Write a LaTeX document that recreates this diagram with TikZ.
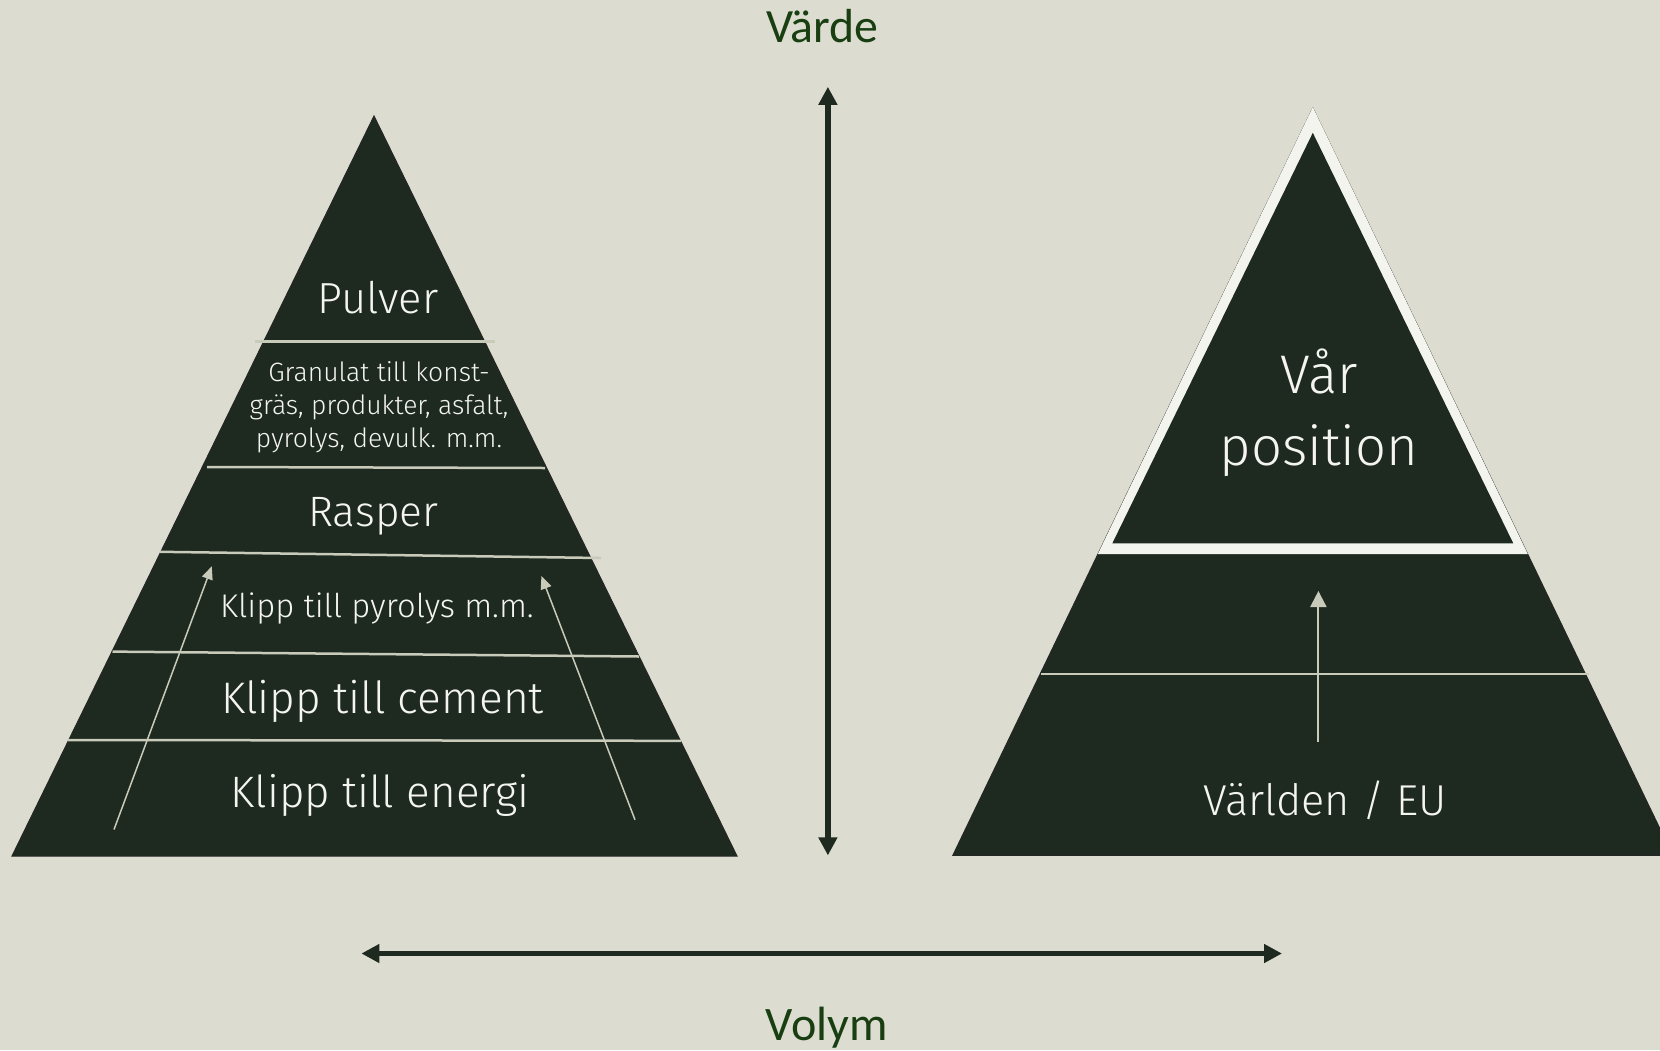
\documentclass[tikz,border=0pt]{standalone}
\usepackage{fontspec}
\IfFontExistsTF{Fira Sans Book}{\setmainfont{Fira Sans Book}}{\setmainfont{Fira Sans Light}}
\newfontfamily\axisfont{Carlito}
\usetikzlibrary{arrows.meta}
\definecolor{bg}{RGB}{220,221,208}
\definecolor{dark}{RGB}{30,42,32}
\definecolor{axisgreen}{RGB}{24,62,18}
\definecolor{divider}{RGB}{200,203,186}
\definecolor{rim}{RGB}{243,244,238}
\definecolor{txt}{RGB}{244,245,240}
\newcommand{\fs}[1]{\fontsize{#1}{#1}\selectfont}
\begin{document}
\begin{tikzpicture}[x=1pt,y=-1pt,
  layerline/.style={draw=divider, line width=2.5pt},
  pyr/.style={fill=dark, draw=black!85, line width=1pt, line join=miter},
  lbl/.style={text=txt, anchor=base, inner sep=0pt},
  uparrow/.style={draw=divider, line width=1.5pt, -{Triangle[length=13pt,width=11pt]}},
  midarrow/.style={draw=divider, line width=2pt, -{Triangle[length=16pt,width=16pt]}},
  axisarrow/.style={draw=dark, line width=5.5pt, {Triangle[length=18pt,width=18pt]}-{Triangle[length=18pt,width=18pt]}},
  axislbl/.style={text=axisgreen, anchor=base, inner sep=0pt}]
\fill[bg] (0,0) rectangle (1660,1050);
\useasboundingbox (0,0) rectangle (1660,1050);
\clip (0,0) rectangle (1660,1050);

% ---------- left pyramid ----------
\draw[pyr] (12,856) -- (374,116) -- (737,856) -- cycle;
\draw[layerline] (255,341.5) -- (495,341.5);
\draw[layerline] (207,467) -- (545,468);
\draw[layerline] (160,551.8) -- (601,558);
\draw[layerline] (112.5,651.6) -- (639,656.5);
\draw[layerline] (68,740) -- (681,740.8);

\coordinate (la1) at (114,829.5);
\coordinate (la2) at (211.8,566.3);
\coordinate (ra1) at (635,819.8);
\coordinate (ra2) at (541.4,576);
\draw[uparrow] (la1) -- (la2);
\draw[uparrow] (ra1) -- (ra2);

\node[lbl, font=\fs{43.5}] (pulver) at (378,313) {Pulver};
\node[text=txt, inner sep=0pt, align=center, font=\fontsize{26.5}{33}\selectfont] (granulat) at (379,407)
  {Granulat till konst-\\gräs, produkter, asfalt,\\pyrolys, devulk. m.m.};
\node[lbl, font=\fs{42.5}] (rasper) at (373.3,526.6) {Rasper};
\node[lbl, font=\fs{32.8}] (pyrolys) at (377,617.7) {Klipp till pyrolys m.m.};
\node[lbl, font=\fs{44.2}] (cement) at (382.5,713) {Klipp till cement};
\node[lbl, font=\fs{44}] (energi) at (380,807.7) {Klipp till energi};

% ---------- right pyramid ----------
\draw[pyr] (952.8,855.4) -- (1312.8,108) -- (1672.8,855.4) -- cycle;
\fill[rim] (1312.8,107) -- (1097.8,554) -- (1527.8,554) -- cycle;
\fill[dark] (1312.8,132.8) -- (1112.3,543.4) -- (1513.3,543.4) -- cycle;
\draw[layerline] (1041,674) -- (1588.6,674);
\coordinate (mid1) at (1318.4,742);
\coordinate (mid2) at (1318.4,591);
\draw[midarrow] (mid1) -- (mid2);

\node[text=txt, inner sep=0pt, align=center, font=\fontsize{54.4}{72}\selectfont] (var) at (1319,412.5) {Vår\\position};
\node[lbl, font=\fs{43.2}] (varlden) at (1325,815.6) {Världen / EU};

% ---------- axes ----------
\coordinate (vtop) at (827.9,86.8);
\coordinate (vbot) at (827.9,855.4);
\draw[axisarrow] (vbot) -- (vtop);
\coordinate (hleft) at (361.4,953.5);
\coordinate (hright) at (1282,953.5);
\draw[axisarrow] (hleft) -- (hright);

\node[axislbl, font=\axisfont\fs{47.8}] (varde) at (822.6,42.7) {Värde};
\node[axislbl, font=\axisfont\fs{48.1}] (volym) at (826.8,1040.7) {Volym};
\end{tikzpicture}
\end{document}
